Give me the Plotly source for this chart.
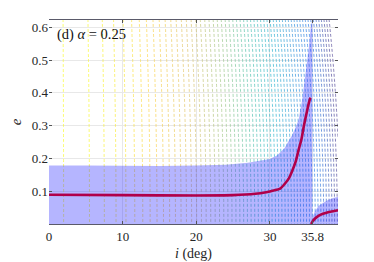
import numpy as np
import plotly.graph_objects as go

# ---- data ----
# main shaded band: upper edge of the eccentricity range (i < 35.8 deg)
band_i = [0, 5, 10, 15, 20, 24, 27, 29, 30, 31, 32, 32.6, 33, 33.5, 33.9, 34.4, 34.9, 35.3, 35.55, 35.75]
band_e = [0.178, 0.178, 0.177, 0.177, 0.178, 0.181, 0.187, 0.194, 0.198, 0.21, 0.232, 0.255, 0.27, 0.295, 0.318, 0.38, 0.46, 0.54, 0.6, 0.622]
# shaded band beyond the critical inclination
band2_i = [35.6, 35.8, 36.1, 36.6, 37.2, 37.9, 38.6, 39.25]
band2_e = [0.0, 0.022, 0.038, 0.055, 0.064, 0.073, 0.079, 0.083]
# forced eccentricity curves
red_i = [0, 10, 20, 25, 28, 29.5, 30.5, 31.4, 32, 32.6, 33, 33.5, 33.9, 34.3, 34.6, 35.0, 35.3, 35.5]
red_e = [0.089, 0.088, 0.087, 0.088, 0.092, 0.097, 0.102, 0.108, 0.122, 0.14, 0.16, 0.19, 0.226, 0.26, 0.297, 0.34, 0.37, 0.385]
red2_i = [35.6, 35.8, 36.1, 36.6, 37.2, 37.9, 38.6, 39.25]
red2_e = [0.0, 0.008, 0.016, 0.025, 0.031, 0.036, 0.039, 0.042]

x_ticks = [0, 10, 20, 30, 35.8]
x_tick_text = ["0", "10", "20", "30", "35.8"]
y_ticks = [0.1, 0.2, 0.3, 0.4, 0.5, 0.6]
y_tick_text = ["0.1", "0.2", "0.3", "0.4", "0.5", "0.6"]

# background level-curve field
gi = np.linspace(0, 39.25, 320)
ge = np.linspace(0, 0.625, 140)
GI, GE = np.meshgrid(gi, ge)
Z = np.cos(np.radians(GI * (1 + 0.1 * GE ** 2)))

parula = [
    [0.0, "#352a87"], [0.125, "#0363e1"], [0.25, "#1485d4"], [0.375, "#06a7c6"],
    [0.5, "#38b99e"], [0.625, "#92bf73"], [0.75, "#d9ba56"], [0.875, "#fcce2e"],
    [1.0, "#f9fb0e"],
]

fig = go.Figure()
fig.add_trace(go.Contour(
    x=gi, y=ge, z=Z,
    contours=dict(coloring="lines", start=0.7714, end=0.9994, size=0.004, showlabels=False),
    colorscale=parula, zmin=0.774, zmax=1.0, showscale=False,
    line=dict(width=0.8, dash="3px,2px"), opacity=0.75, hoverinfo="skip",
))

fill_col = "rgba(30,30,255,0.33)"
fig.add_trace(go.Scatter(
    x=[0] + band_i + [band_i[-1]], y=[0] + band_e + [0],
    fill="toself", fillcolor=fill_col, line=dict(width=0), mode="lines", hoverinfo="skip",
))
fig.add_trace(go.Scatter(
    x=band2_i + [band2_i[-1]], y=band2_e + [0],
    fill="toself", fillcolor=fill_col, line=dict(width=0), mode="lines", hoverinfo="skip",
))
fig.add_trace(go.Scatter(x=red_i, y=red_e, mode="lines", line=dict(color="#b0004a", width=2.6, shape="spline", smoothing=0.6)))
fig.add_trace(go.Scatter(x=red2_i, y=red2_e, mode="lines", line=dict(color="#b0004a", width=2.6, shape="spline", smoothing=0.6)))

font_family = "Liberation Serif"
fig.update_layout(
    width=366, height=254,
    margin=dict(l=41, r=35.5, t=12, b=38, autoexpand=False),
    paper_bgcolor="white", plot_bgcolor="white",
    showlegend=False,
    font=dict(family=font_family, size=13, color="#262626"),
    xaxis=dict(
        range=[0, 39.25], tickvals=x_ticks, ticktext=x_tick_text, automargin=False,
        showgrid=True, gridcolor="#e8e8e8", gridwidth=1, zeroline=False,
        ticks="inside", ticklen=3, tickcolor="#555555", mirror="ticks",
        showline=True, linecolor="#5a5a6a", linewidth=1,
        tickfont=dict(family=font_family, size=13),
        title=dict(text="<i>i</i> (deg)", font=dict(family=font_family, size=14), standoff=5),
    ),
    yaxis=dict(
        range=[0, 0.622], tickvals=y_ticks, ticktext=y_tick_text, automargin=False,
        showgrid=True, gridcolor="#e8e8e8", gridwidth=1, zeroline=False,
        ticks="inside", ticklen=3, tickcolor="#555555", mirror="ticks",
        showline=False,
        tickfont=dict(family=font_family, size=13),
        title=dict(text="<i>e</i>", font=dict(family=font_family, size=15), standoff=6),
    ),
    annotations=[dict(
        text="(d) <i>α</i> = 0.25", x=0.8, y=0.578, xref="x", yref="y",
        xanchor="left", yanchor="middle", showarrow=False,
        font=dict(family=font_family, size=14.5, color="#111111"),
    )],
)

fig.write_html("out.html")
